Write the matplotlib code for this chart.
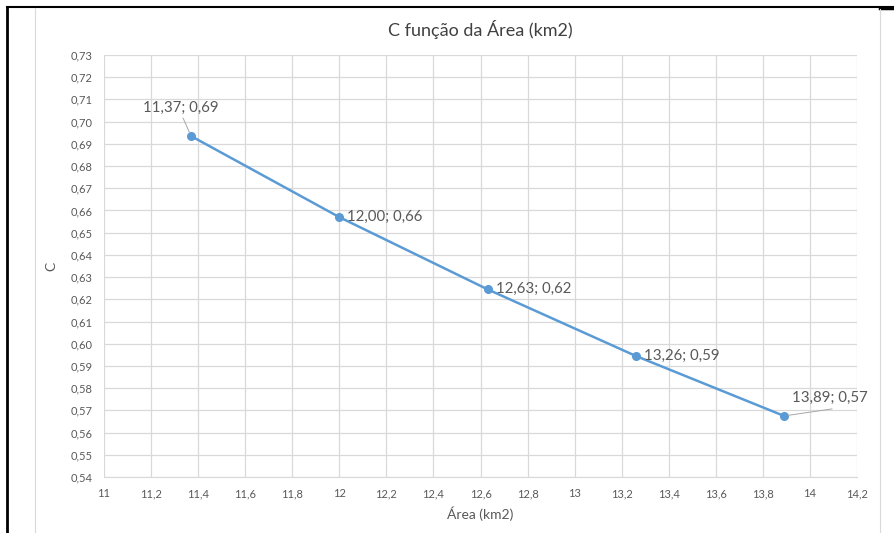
import matplotlib.pyplot as plt
from matplotlib.lines import Line2D
from matplotlib.ticker import FuncFormatter, MultipleLocator

plt.rcParams['font.family'] = ['Lato', 'DejaVu Sans']

# Data
area = [11.37, 12.00, 12.63, 13.26, 13.89]
c_vals = [0.6935, 0.657, 0.6245, 0.5945, 0.5675]
labels = ["11,37; 0,69", "12,00; 0,66", "12,63; 0,62", "13,26; 0,59", "13,89; 0,57"]

W, H = 894, 533
fig = plt.figure(figsize=(W / 100, H / 100), dpi=100)
ax = fig.add_axes([104 / W, 1 - 477 / H, (857 - 104) / W, (477 - 55) / H])

blue = '#5b9bd5'
grey_txt = '#595959'
grid_c = '#d9d9d9'

ax.plot(area, c_vals, color=blue, lw=1.8, marker='o', ms=5.5, zorder=3)

ax.set_xlim(11, 14.2)
ax.set_ylim(0.54, 0.73)
ax.xaxis.set_major_locator(MultipleLocator(0.2))
ax.yaxis.set_major_locator(MultipleLocator(0.01))


def fmt_x(v, pos):
    s = f"{v:.1f}"
    if s.endswith(".0"):
        s = s[:-2]
    return s.replace(".", ",")


ax.xaxis.set_major_formatter(FuncFormatter(fmt_x))
ax.yaxis.set_major_formatter(FuncFormatter(lambda v, p: f"{v:.2f}".replace(".", ",")))
ax.tick_params(length=0, labelsize=8, colors=grey_txt, pad=8)
ax.grid(True, color=grid_c, lw=0.9)
ax.set_axisbelow(True)
for side in ['top', 'right', 'left']:
    ax.spines[side].set_visible(False)
ax.spines['bottom'].set_color(grid_c)

ax.set_xlabel("Área (km2)", fontsize=10, color=grey_txt, labelpad=5)
ax.set_ylabel("C", fontsize=10, color=grey_txt, labelpad=10)
ax.set_title("C função da Área (km2)", fontsize=13, color='#404040', pad=14)

# data labels (offsets in pixels)
offsets = [(-48, 28), (8, 0), (8, 0), (8, 0), (8, 18)]
leaders = {0: (-8, 18), 4: (48, 7)}
for i, (x, y, t) in enumerate(zip(area, c_vals, labels)):
    dx, dy = offsets[i]
    ax.annotate(t, (x, y), xytext=(dx, dy), textcoords='offset pixels',
                fontsize=10.8, color=grey_txt, va='center', ha='left')
    if i in leaders:
        ax.annotate('', (x, y), xytext=leaders[i], textcoords='offset pixels',
                    arrowprops=dict(arrowstyle='-', color='#a6a6a6', lw=0.7,
                                    shrinkA=0, shrinkB=3))


# outer frame like the screenshot
def px_line(x0, y0, x1, y1, **kw):
    fig.add_artist(Line2D([x0 / W, x1 / W], [1 - y0 / H, 1 - y1 / H], **kw))


px_line(7, 7, 7, H, color='black', lw=2)
px_line(7, 7, W, 7, color='black', lw=1.5)
px_line(880, 8, W, 8, color='black', lw=2.5)
px_line(35, 8, 35, H, color='#d9d9d9', lw=0.8)
px_line(880, 9, 880, H, color='#d9d9d9', lw=0.8)

fig.savefig("out.png", dpi=100)
